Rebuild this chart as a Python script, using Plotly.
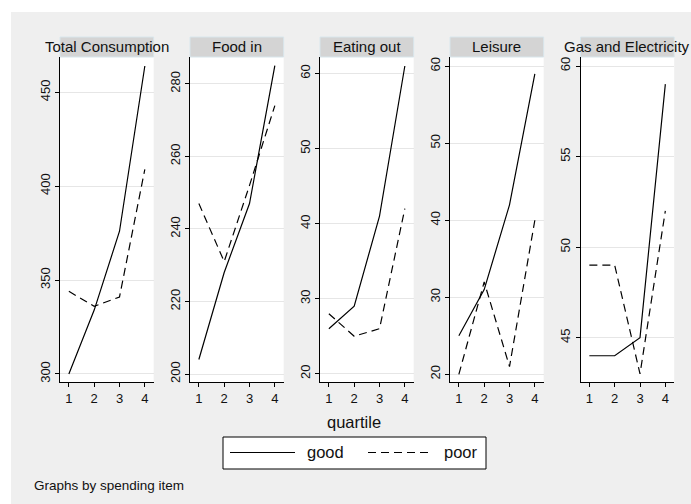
import plotly.graph_objects as go

# Spending by income quartile, split by health status
quartile = [1, 2, 3, 4]
items = ["Total Consumption", "Food in", "Eating out", "Leisure", "Gas and Electricity"]
groups = ["good", "poor"]

total_good = [300, 334, 376, 464]
total_poor = [344, 336, 341, 409]
food_good = [204, 228, 247, 285]
food_poor = [247, 231, 252, 274]
eating_good = [26, 29, 41, 61]
eating_poor = [28, 25, 26, 42]
leisure_good = [25, 31, 42, 59]
leisure_poor = [20, 32, 21, 40]
gas_good = [44, 44, 45, 59]
gas_poor = [49, 49, 43, 52]

y_ticks = [
    [300, 350, 400, 450],
    [200, 220, 240, 260, 280],
    [20, 30, 40, 50, 60],
    [20, 30, 40, 50, 60],
    [45, 50, 55, 60],
]
y_ranges = [
    [295.7, 468.8],
    [197.8, 287.4],
    [18.9, 62.2],
    [19.0, 61.2],
    [42.55, 60.5],
]
series = [
    (total_good, total_poor),
    (food_good, food_poor),
    (eating_good, eating_poor),
    (leisure_good, leisure_poor),
    (gas_good, gas_poor),
]

W, H = 691, 504
FONT = "Liberation Sans, Arial, Helvetica, sans-serif"
TXT = "#111111"
BG = "#efefef"


def px(x):
    return x / W


def py(y):
    return 1 - y / H


# horizontal pixel extents of each panel's plot region
panel_x = [(60, 153.7), (190, 283.7), (320, 413.7), (450, 543.7), (580.5, 674.2)]
plot_top, plot_bottom = 57, 382
strip_top = 37

dash_style = "8px,5px"

fig = go.Figure()
layout = dict(
    width=W,
    height=H,
    autosize=False,
    margin=dict(l=0, r=0, t=0, b=0),
    paper_bgcolor=BG,
    plot_bgcolor="white",
    showlegend=False,
    font=dict(family=FONT, color=TXT),
)

# white border along the top and left edges of the graph region
shapes = [
    dict(type="rect", xref="paper", yref="paper",
         x0=0, x1=1, y0=py(12), y1=1,
         fillcolor="white", line=dict(width=0), layer="below"),
    dict(type="rect", xref="paper", yref="paper",
         x0=0, x1=px(11), y0=0, y1=1,
         fillcolor="white", line=dict(width=0), layer="below"),
]
annotations = []

for i, (name, (g, p)) in enumerate(zip(items, series)):
    n = i + 1
    xa = "x" if n == 1 else f"x{n}"
    ya = "y" if n == 1 else f"y{n}"
    x0, x1 = panel_x[i]
    layout[f"xaxis{'' if n == 1 else n}"] = dict(
        domain=[px(x0), px(x1)],
        anchor=ya,
        range=[0.65, 4.35],
        tickvals=quartile,
        ticks="outside",
        ticklen=4,
        tickwidth=1,
        tickcolor="black",
        showline=True,
        linecolor="black",
        linewidth=1,
        showgrid=False,
        zeroline=False,
        tickfont=dict(size=13, family=FONT, color=TXT),
        fixedrange=True,
    )
    layout[f"yaxis{'' if n == 1 else n}"] = dict(
        domain=[py(plot_bottom), py(plot_top)],
        anchor=xa,
        range=y_ranges[i],
        tickvals=y_ticks[i],
        tickangle=-90,
        ticks="outside",
        ticklen=4,
        tickwidth=1,
        tickcolor="black",
        showline=True,
        linecolor="black",
        linewidth=1,
        showgrid=True,
        gridcolor="#e6e6e6",
        gridwidth=1.4,
        zeroline=False,
        tickfont=dict(size=13, family=FONT, color=TXT),
        fixedrange=True,
    )
    fig.add_trace(go.Scatter(x=quartile, y=g, mode="lines", name=groups[0],
                             line=dict(color="black", width=1.2),
                             xaxis=xa, yaxis=ya))
    fig.add_trace(go.Scatter(x=quartile, y=p, mode="lines", name=groups[1],
                             line=dict(color="black", width=1.2, dash=dash_style),
                             xaxis=xa, yaxis=ya))
    # panel strip and its title
    shapes.append(dict(type="rect", xref="paper", yref="paper",
                       x0=px(x0), x1=px(x1), y0=py(plot_top), y1=py(strip_top),
                       fillcolor="#d4d4d4", line=dict(color="#d8e6ec", width=1),
                       layer="below"))
    annotations.append(dict(text=name, xref="paper", yref="paper",
                            x=px((x0 + x1) / 2), y=py(46.5),
                            xanchor="center", yanchor="middle", showarrow=False,
                            font=dict(size=15, family=FONT, color=TXT)))

# common x-axis title
annotations.append(dict(text="quartile", xref="paper", yref="paper",
                        x=px(354.5), y=py(422), xanchor="center", yanchor="middle",
                        showarrow=False, font=dict(size=16.5, family=FONT, color=TXT)))

# legend box
shapes.append(dict(type="rect", xref="paper", yref="paper",
                   x0=px(223), x1=px(486), y0=py(469), y1=py(437),
                   fillcolor="white", line=dict(color="black", width=1)))
shapes.append(dict(type="line", xref="paper", yref="paper",
                   x0=px(230), x1=px(295), y0=py(452.5), y1=py(452.5),
                   line=dict(color="black", width=1.2)))
shapes.append(dict(type="line", xref="paper", yref="paper",
                   x0=px(368), x1=px(432), y0=py(452.5), y1=py(452.5),
                   line=dict(color="black", width=1.2, dash=dash_style)))
annotations.append(dict(text=groups[0], xref="paper", yref="paper",
                        x=px(305), y=py(452), xanchor="left", yanchor="middle",
                        showarrow=False, font=dict(size=16.5, family=FONT, color=TXT)))
annotations.append(dict(text=groups[1], xref="paper", yref="paper",
                        x=px(442), y=py(452), xanchor="left", yanchor="middle",
                        showarrow=False, font=dict(size=16.5, family=FONT, color=TXT)))

# note
annotations.append(dict(text="Graphs by spending item", xref="paper", yref="paper",
                        x=px(32), y=py(485), xanchor="left", yanchor="middle",
                        showarrow=False, font=dict(size=13.5, family=FONT, color=TXT)))

layout["shapes"] = shapes
layout["annotations"] = annotations
fig.update_layout(**layout)
fig.write_html("out.html")
